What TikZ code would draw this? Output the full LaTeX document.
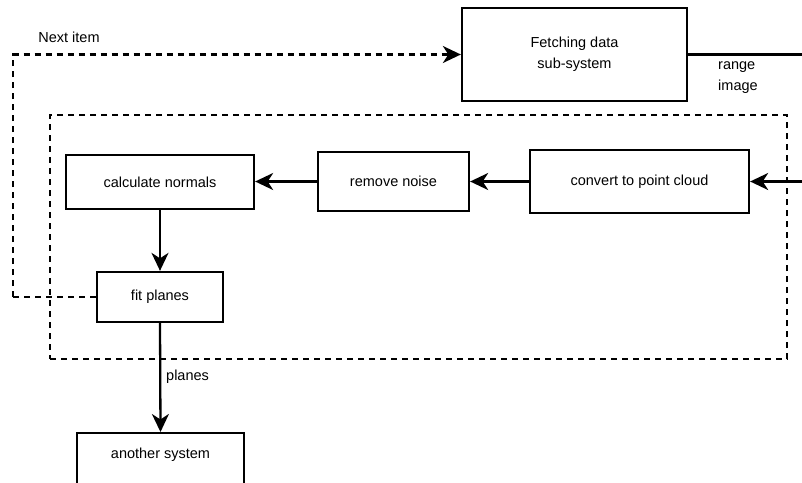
\documentclass[tikz,border=0pt]{standalone}
\usepackage{fontspec}
\setmainfont{Liberation Sans}
\usetikzlibrary{arrows.meta}

\tikzset{
  every node/.style={font=\fontsize{14.5}{21}\selectfont},
  box/.style={draw, line width=2.3pt, rectangle, inner sep=0pt, align=center},
  flow/.style={line width=2.3pt},
  tip/.style={-{Stealth[length=18pt, width=17pt, inset=5.5pt]}},
  arrowed/.style={flow, tip},
  dashline/.style={line width=2.3pt, dash pattern=on 6pt off 5pt},
  group/.style={draw, line width=2.3pt, dash pattern=on 6pt off 5pt, rectangle, inner sep=0pt},
}

\begin{document}
\begin{tikzpicture}[x=1pt, y=-1pt]
  \useasboundingbox (0,0) rectangle (802,482);
  \clip (0,0) rectangle (802,482);

  % processing group
  \node[group, minimum width=737pt, minimum height=244pt] (grp) at (418.5,237) {};

  % boxes
  \node[box, minimum width=225pt, minimum height=93pt] (fetch) at (574.5,54.5) {Fetching data\\sub-system};
  \node[box, minimum width=219pt, minimum height=63pt] (convert) at (639.5,181.5) {convert to point cloud};
  \node[box, minimum width=151pt, minimum height=59pt] (noise) at (393.5,181.5) {remove noise};
  \node[box, minimum width=188pt, minimum height=54pt] (normals) at (160,182) {calculate normals};
  \node[box, minimum width=126pt, minimum height=50pt] (fit) at (160,297) {fit planes};
  \node[box, minimum width=167pt, text height=25pt, text depth=40pt, anchor=north] (another) at (160.5,432) {another system};

  % data from the fetching sub-system into the pipeline
  \coordinate (outer) at (840,54.5);
  \draw[flow] (fetch.east) -- (outer);
  \draw[arrowed] (outer) |- (convert.east);
  \node[anchor=west, align=left, inner sep=0pt] (rangelbl) at (718,77.5) {range\\image};

  % pipeline
  \draw[arrowed] (convert.west) -- (noise.east);
  \draw[arrowed] (noise.west) -- (normals.east |- noise.west);
  \draw[arrowed] (normals.south) -- (fit.north);
  \draw[arrowed] (fit.south) -- (another.north);
  \node[anchor=west, inner sep=0pt] (planeslbl) at (166,377) {planes};

  % loop back for the next item
  \coordinate (loop) at (13,297);
  \draw[dashline] (fit.west) -- (loop);
  \draw[dashline, tip] (loop) |- (fetch.west);
  \node[inner sep=0pt] (nextlbl) at (69,37) {Next item};
\end{tikzpicture}
\end{document}
